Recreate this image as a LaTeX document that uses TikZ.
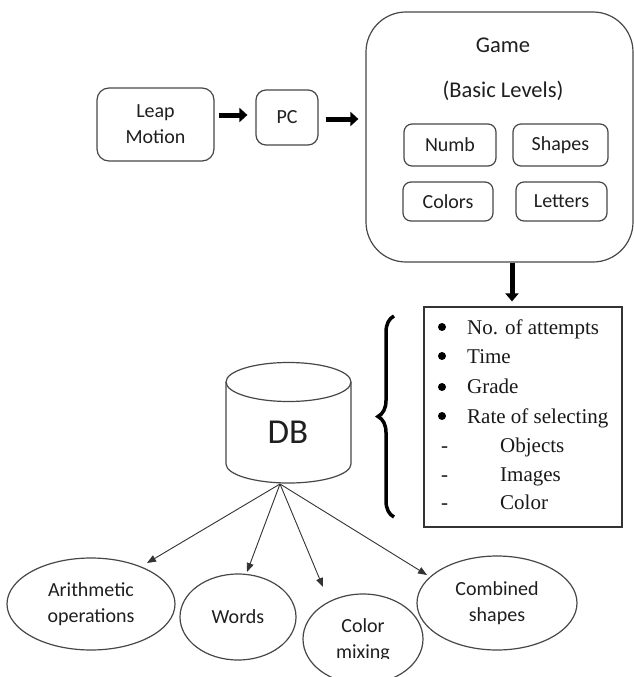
\documentclass[tikz,border=0pt]{standalone}
\usepackage{fontspec}
\setmainfont{Carlito}
\newfontfamily\tnr{Liberation Serif}
\usetikzlibrary{arrows.meta,shapes.geometric,decorations.pathreplacing}
\begin{document}
\begin{tikzpicture}[x=1pt,y=-1pt,
  every node/.style={font=\fontsize{20}{26}\selectfont, text=black!88},
  ln/.style={draw=black!72, line width=1.2pt},
  rbox/.style={ln, rounded corners=#1, inner sep=0pt, align=center},
  ell/.style={ln, ellipse, inner sep=0pt, align=center},
  blk/.style={line width=5pt, black, -{Triangle[length=8pt,width=14pt]}},
  sarr/.style={draw=black!80, line width=0.9pt, -{Triangle[length=9pt,width=7pt]}},
  lst/.style={font=\tnr\fontsize{21}{24}\selectfont, anchor=base west, inner sep=0pt, text=black!90},
  bul/.style={fill=black, draw=none, circle, inner sep=0pt, minimum size=8pt}
]
\useasboundingbox[fill=white] (0,0) rectangle (634,677);

% top row
\node[rbox=12, minimum width=117pt, minimum height=73pt] (leap) at (155.5,124.5) {Leap\\Motion};
\node[rbox=10, minimum width=62pt, minimum height=55pt] (pc) at (287,117.5) {PC};
\node[rbox=40, minimum width=267pt, minimum height=250pt] (game) at (499.5,137) {};
\node[font=\fontsize{22.5}{28}\selectfont] (gtitle) at (503,45) {Game};
\node[font=\fontsize{22.5}{28}\selectfont] (glev) at (503,91) {(Basic Levels)};
\node[rbox=8, minimum width=92pt, minimum height=42pt] (numb) at (450,145) {Numb};
\node[rbox=8, minimum width=95pt, minimum height=42pt] (shapes) at (560.5,145) {Shapes};
\node[rbox=8, minimum width=90pt, minimum height=39pt] (colors) at (448,201.5) {Colors};
\node[rbox=8, minimum width=91pt, minimum height=39pt] (letters) at (561.5,201.5) {Letters};

\draw[blk] ([xshift=4pt,yshift=9.5pt]leap.east) -- ([xshift=-8pt,yshift=2.5pt]pc.west);
\draw[blk] ([xshift=7pt,yshift=-1.5pt]pc.east) -- ([xshift=-7pt,yshift=18pt]game.west);

% list box
\node[draw=black!80, line width=1.2pt, minimum width=198pt, minimum height=220pt, inner sep=0pt] (list) at (523,417) {};
\draw[blk, -{Triangle[length=8pt,width=13pt]}] ([xshift=12.5pt]game.south) -- ([xshift=-11pt,yshift=5pt]list.north);

\node[bul] (b1) at (442,327) {};
\node[bul] (b2) at (442,356) {};
\node[bul] (b3) at (442,387) {};
\node[bul] (b4) at (442,416) {};
\node[lst] (t1) at (467,334) {No. of attempts};
\node[lst] (t2) at (467,363) {Time};
\node[lst] (t3) at (467,393) {Grade};
\node[lst] (t4) at (467,423) {Rate of selecting};
\node[lst] (d1) at (441,452) {-};
\node[lst] (d2) at (441,481) {-};
\node[lst] (d3) at (441,509) {-};
\node[lst] (t5) at (500,452) {Objects};
\node[lst] (t6) at (500,481) {Images};
\node[lst] (t7) at (500,509) {Color};

% brace
\draw[decorate, decoration={brace, amplitude=16pt}, line width=3.5pt, black] (394,517) -- (394,316);

% DB cylinder
\draw[ln] (226,382) -- (226,464) arc[start angle=180, end angle=0, x radius=62.5, y radius=19] -- (351,382);
\draw[ln] (288.5,382) ellipse[x radius=62.5, y radius=19.5];
\node[font=\fontsize{35}{40}\selectfont] (db) at (288,432) {DB};
\coordinate (apex) at (280,484);

% ellipses
\node[ell, minimum width=168pt, minimum height=92pt] (arith) at (91,604) {Arithmetic\\operations};
\node[ell, minimum width=116pt, minimum height=86pt] (words) at (238,617) {Words};
\node[ell, minimum width=120pt, minimum height=90pt] (cmix) at (363,639) {};
\begin{scope}
\clip (300,600) rectangle (430,658);
\node[align=center, inner sep=0pt] (cmtext) at (363,640) {Color\\mixing};
\end{scope}
\node[ell, minimum width=160pt, minimum height=94pt] (comb) at (497,603) {Combined\\shapes};

\coordinate (ea) at (147,563);
\coordinate (ew) at (247,572);
\coordinate (ec) at (323,587);
\coordinate (eb) at (427,575);
\draw[sarr] (apex) -- (ea);
\draw[sarr] (apex) -- (ew);
\draw[sarr] (apex) -- (ec);
\draw[sarr] (apex) -- (eb);
\end{tikzpicture}
\end{document}
